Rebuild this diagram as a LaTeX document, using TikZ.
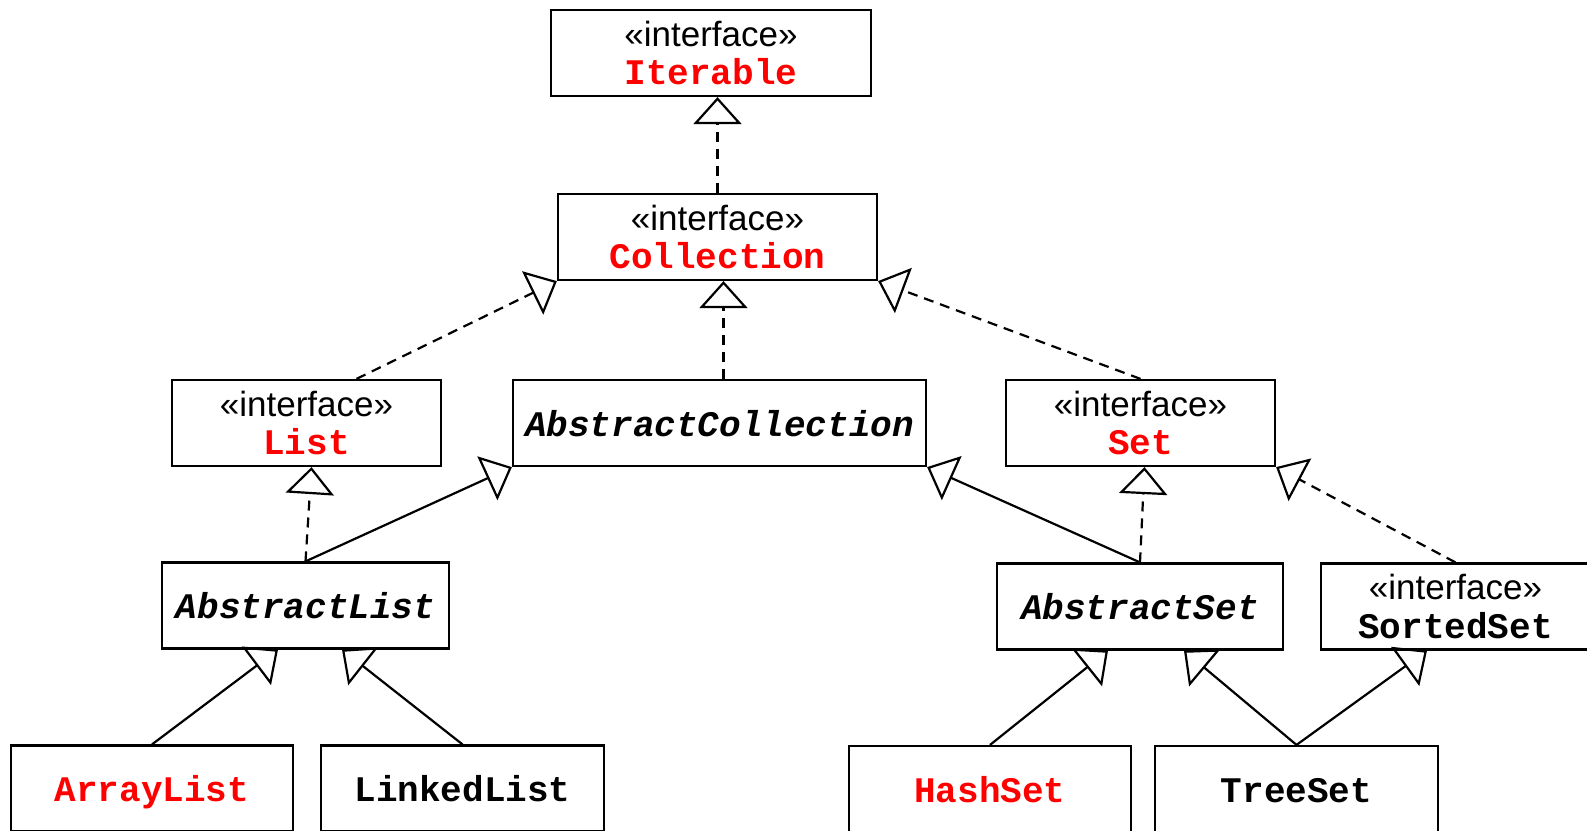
\documentclass[tikz,border=0pt]{standalone}
\usepackage{fontspec}
\newfontfamily\umlsans{Liberation Sans}
\newfontfamily\umlmono{Liberation Mono}
\usetikzlibrary{arrows.meta,positioning,calc}

\newcommand{\stereo}{{\umlsans\fontsize{17.5}{19.25}\selectfont «interface»}}
\newcommand{\cname}[1]{{\umlmono\bfseries #1}}
\newcommand{\rname}[1]{{\umlmono\bfseries\color{red}#1}}
\newcommand{\aname}[1]{{\umlmono\bfseries\itshape #1}}

\begin{document}
\begin{tikzpicture}[x=0.5pt, y=-0.5pt,
    cls/.style={draw, line width=1.1pt, inner sep=0pt, minimum height=43pt,
        align=center, font=\fontsize{18}{19.25}\selectfont},
    single/.style={cls, text height=14.5pt, text depth=1.5pt},
    impl/.style={line width=1.1pt, dash pattern=on 5pt off 3.5pt,
        -{Triangle[open, length=13.5pt, width=24pt]}},
    ext/.style={line width=1.1pt, -{Triangle[open, length=13.5pt, width=24pt]}}]
    \useasboundingbox (0, 0) rectangle (1587, 831);

    % Interfaces
    \node[cls, minimum width=160pt] (iter) at (711, 53) {\stereo\\\rname{Iterable}};
    \node[cls, minimum width=159.5pt] (coll) at (717.5, 237) {\stereo\\\rname{Collection}};
    \node[cls, minimum width=134.5pt] (list) at (306.5, 423) {\stereo\\\rname{List}};
    \node[cls, minimum width=134.5pt] (set) at (1140.5, 423) {\stereo\\\rname{Set}};
    \node[cls, minimum width=134.5pt] (sset) at (1455.5, 606.5) {\stereo\\\cname{SortedSet}};

    % Abstract classes
    \node[single, minimum width=206.5pt] (acoll) at (719.5, 423) {\aname{AbstractCollection}};
    \node[single, minimum width=143.5pt] (alist) at (305.5, 605.5) {\aname{AbstractList}};
    \node[single, minimum width=143pt] (aset) at (1140, 606.5) {\aname{AbstractSet}};

    % Concrete classes
    \node[single, minimum width=141pt] (alst) at (152, 788.5) {\rname{ArrayList}};
    \node[single, minimum width=141.5pt] (llst) at (462.5, 788.5) {\cname{LinkedList}};
    \node[single, minimum width=141pt] (hset) at (990, 789) {\rname{HashSet}};
    \node[single, minimum width=141.5pt] (tset) at (1296.5, 789) {\cname{TreeSet}};

    % Realizations
    \draw[impl] (coll.north) -- (coll.north |- iter.south);
    \draw[impl] ([xshift=25pt]list.north) -- (coll.south west);
    \draw[impl] ([xshift=2pt]acoll.north) -- ([xshift=2pt]acoll.north |- coll.south);
    \draw[impl] (set.north) -- (coll.south east);
    \draw[impl] (alist.north) -- ([xshift=2.5pt]list.south);
    \draw[impl] (aset.north) -- ([xshift=2pt]set.south);
    \draw[impl] (sset.north) -- (set.south east);

    % Generalizations
    \draw[ext] (alist.north) -- (acoll.south west);
    \draw[ext] (aset.north) -- (acoll.south east);
    \draw[ext] (alst.north) -- ([xshift=-13.75pt]alist.south);
    \draw[ext] (llst.north) -- ([xshift=18.25pt]alist.south);
    \draw[ext] (hset.north) -- ([xshift=-16pt]aset.south);
    \draw[ext] (tset.north) -- ([xshift=22pt]aset.south);
    \draw[ext] (tset.north) -- ([xshift=-14.25pt]sset.south);
\end{tikzpicture}
\end{document}
